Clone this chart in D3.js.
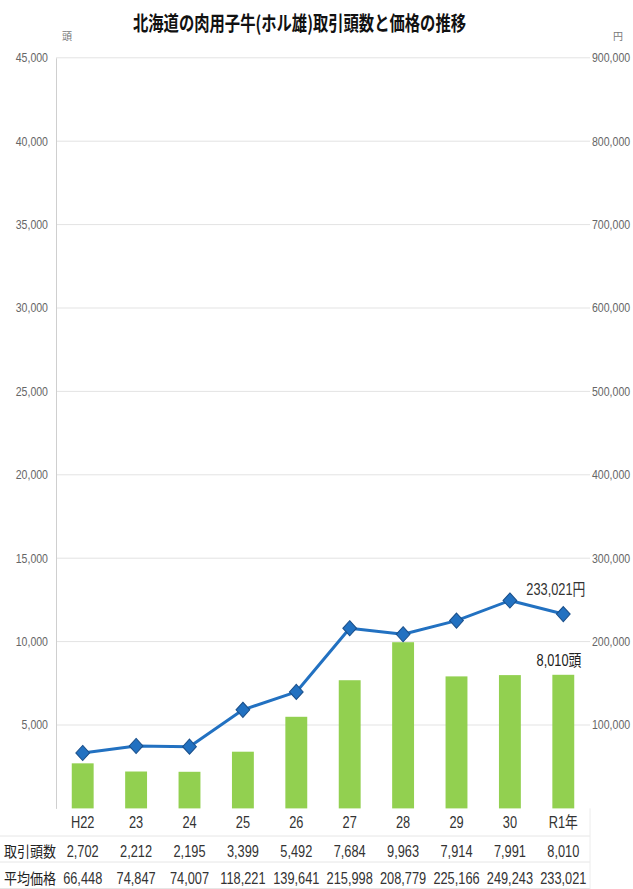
<!DOCTYPE html>
<html>
<head>
<meta charset="utf-8">
<script src="https://cdn.jsdelivr.net/npm/d3@7/dist/d3.min.js"></script>
<style>
  html, body { margin: 0; padding: 0; background: #fff; }
  svg { display: block; }
  text { font-family: "Liberation Sans", "Noto Sans CJK JP", sans-serif; }
  .cjk { font-family: "Noto Sans CJK JP", sans-serif; }
</style>
</head>
<body>
<script>
// 年度
const categories = ["H22", "23", "24", "25", "26", "27", "28", "29", "30", "R1年"];
// 取引頭数(頭)
const heads = [2702, 2212, 2195, 3399, 5492, 7684, 9963, 7914, 7991, 8010];
// 平均価格(円)
const prices = [66448, 74847, 74007, 118221, 139641, 215998, 208779, 225166, 249243, 233021];
// 目盛
const leftTicks = [5000, 10000, 15000, 20000, 25000, 30000, 35000, 40000, 45000];
const rightTicks = [100000, 200000, 300000, 400000, 500000, 600000, 700000, 800000, 900000];
const rowLabels = ["取引頭数", "平均価格"];

const W = 633, H = 889;
const m = { left: 56, right: 590, top: 57.8, bottom: 808.4 };

const svg = d3.select("body").append("svg").attr("width", W).attr("height", H);

const x = d3.scaleBand().domain(categories).range([m.left, m.right]).paddingInner(0.59).paddingOuter(0.295);
const yL = d3.scaleLinear().domain([0, 45000]).range([m.bottom, m.top]);
const yR = d3.scaleLinear().domain([0, 900000]).range([m.bottom, m.top]);
const fmt = d3.format(",");
const cx = d => x(d) + x.bandwidth() / 2;

// 横方向に詰めた文字
function narrow(sel, px, py, sx) {
  sel.attr("x", 0).attr("y", 0)
    .attr("transform", (d, i) => `translate(${typeof px === "function" ? px(d, i) : px},${typeof py === "function" ? py(d, i) : py}) scale(${sx},1)`);
  return sel;
}

// タイトル
svg.append("text").attr("class", "cjk")
  .attr("x", 133).attr("y", 31)
  .attr("textLength", 333).attr("lengthAdjust", "spacingAndGlyphs")
  .attr("font-size", 20).attr("font-weight", "bold").attr("fill", "#111")
  .text("北海道の肉用子牛(ホル雄)取引頭数と価格の推移");

// 単位
svg.append("text").attr("class", "cjk").attr("x", 62).attr("y", 40)
  .attr("font-size", 10).attr("fill", "#777").text("頭");
svg.append("text").attr("class", "cjk").attr("x", 613).attr("y", 40)
  .attr("font-size", 10).attr("fill", "#777").text("円");

// 目盛線
svg.append("g").selectAll("line").data(leftTicks).join("line")
  .attr("x1", m.left).attr("x2", m.right)
  .attr("y1", d => yL(d)).attr("y2", d => yL(d))
  .attr("stroke", "#e3e3e3").attr("stroke-width", 1);

// 左軸
const gL = svg.append("g").attr("transform", `translate(${m.left},0)`)
  .call(d3.axisLeft(yL).tickValues(leftTicks).tickFormat(fmt).tickSize(0).tickPadding(8));
gL.select(".domain").attr("stroke", "#cfcfcf");
gL.selectAll("text").attr("font-size", 12).attr("fill", "#666")
  .attr("transform", "scale(0.88,1)").attr("x", -8 / 0.88);

// 右軸
const gR = svg.append("g").attr("transform", `translate(${m.right},0)`)
  .call(d3.axisRight(yR).tickValues(rightTicks).tickFormat(fmt).tickSize(0).tickPadding(2));
gR.select(".domain").remove();
gR.selectAll("text").attr("font-size", 12).attr("fill", "#666")
  .attr("transform", "scale(0.88,1)").attr("x", 2 / 0.88);

// 取引頭数(棒)
svg.append("g").selectAll("rect").data(categories).join("rect")
  .attr("x", d => x(d)).attr("width", x.bandwidth())
  .attr("y", (d, i) => yL(heads[i])).attr("height", (d, i) => yL(0) - yL(heads[i]))
  .attr("fill", "#92d050");

// 平均価格(折れ線)
const line = d3.line().x((d, i) => cx(categories[i])).y(d => yR(d));
svg.append("path").datum(prices).attr("d", line)
  .attr("fill", "none").attr("stroke", "#2271c1").attr("stroke-width", 3)
  .attr("stroke-linejoin", "round");

svg.append("g").selectAll("path").data(prices).join("path")
  .attr("transform", (d, i) => `translate(${cx(categories[i])},${yR(d)}) scale(1,1.1)`)
  .attr("d", d3.symbol(d3.symbolDiamond2, 120)())
  .attr("fill", "#2271c1").attr("stroke", "#1a4f8a").attr("stroke-width", 1);

// 最新値ラベル
const last = categories.length - 1;
svg.append("text").attr("text-anchor", "end").attr("font-size", 16).attr("fill", "#333")
  .call(narrow, cx(categories[last]) + 22, yR(prices[last]) - 19, 0.8)
  .text(fmt(prices[last]) + "円");
svg.append("text").attr("text-anchor", "end").attr("font-size", 16).attr("fill", "#222")
  .call(narrow, cx(categories[last]) + 18, yL(heads[last]) - 9, 0.8)
  .text(fmt(heads[last]) + "頭");

// データ表
const rowY = [828, 857, 884];
const lineY = [836, 862, 888.5];
svg.append("g").selectAll("line").data(lineY).join("line")
  .attr("x1", 0).attr("x2", m.right)
  .attr("y1", d => d).attr("y2", d => d)
  .attr("stroke", "#e6e6e6").attr("stroke-width", 1);
svg.append("line").attr("x1", m.right).attr("x2", m.right)
  .attr("y1", m.bottom).attr("y2", H)
  .attr("stroke", "#ececec").attr("stroke-width", 1);

svg.append("g").selectAll("text").data(categories).join("text")
  .attr("text-anchor", "middle").attr("font-size", 16).attr("fill", "#333")
  .call(narrow, d => cx(d), rowY[0], 0.8).text(d => d);

svg.append("g").selectAll("text").data(rowLabels).join("text")
  .attr("class", "cjk").attr("x", 4).attr("y", (d, i) => rowY[i + 1])
  .attr("textLength", 52).attr("lengthAdjust", "spacingAndGlyphs")
  .attr("font-size", 15).attr("fill", "#222").text(d => d);

svg.append("g").selectAll("text").data(heads).join("text")
  .attr("text-anchor", "middle").attr("font-size", 16).attr("fill", "#333")
  .call(narrow, (d, i) => cx(categories[i]), rowY[1], 0.8).text(d => fmt(d));

svg.append("g").selectAll("text").data(prices).join("text")
  .attr("text-anchor", "middle").attr("font-size", 16).attr("fill", "#333")
  .call(narrow, (d, i) => cx(categories[i]), rowY[2], 0.8).text(d => fmt(d));
</script>
</body>
</html>
